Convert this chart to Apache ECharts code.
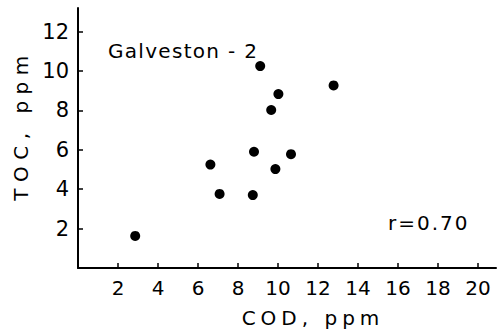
<!DOCTYPE html>
<html>
<head>
<meta charset="utf-8">
<script src="https://cdn.jsdelivr.net/npm/echarts@6/dist/echarts.min.js"></script>
<style>
  html, body { margin: 0; padding: 0; background: #fff; }
  #chart { width: 502px; height: 335px; }
</style>
</head>
<body>
<div id="chart"></div>
<script>
// COD vs TOC measurements, Galveston-2 site
const codValues = [2.86, 7.08, 8.74, 6.62, 8.8, 9.87, 10.65, 9.66, 10.02, 9.11, 12.78];
const tocValues = [1.63, 3.76, 3.7, 5.25, 5.9, 5.02, 5.78, 8.02, 8.83, 10.25, 9.27];
const xTicks = [2, 4, 6, 8, 10, 12, 14, 16, 18, 20];
const yTicks = [2, 4, 6, 8, 10, 12];
const xTitle = 'COD, ppm';
const yTitle = 'TOC, ppm';
const siteLabel = 'Galveston - 2';
const corrLabel = 'r=0.70';

const points = codValues.map((c, i) => [c, tocValues[i]]);
const FONT = 'DejaVu Sans';

// hand-lettered look: extra tracking on the longer texts
const tracking = {};
tracking[xTitle] = '5px';
tracking[yTitle] = '6.5px';
tracking[siteLabel] = '1.3px';
tracking[corrLabel] = '2px';

function applyTracking() {
  document.querySelectorAll('#chart text').forEach(t => {
    const ls = tracking[t.textContent];
    if (ls) t.style.letterSpacing = ls;
  });
}

const chart = echarts.init(document.getElementById('chart'), null, { renderer: 'svg' });
chart.on('finished', applyTracking);
chart.setOption({
  animation: false,
  backgroundColor: '#ffffff',
  grid: { left: 78, right: 6, top: 8, bottom: 67 },
  xAxis: {
    type: 'value', min: 0, max: 20.9,
    name: xTitle, nameLocation: 'middle', nameGap: 40,
    nameTextStyle: { color: '#000', fontSize: 20, fontFamily: FONT, padding: [0, 0, 0, 52] },
    axisLine: { lineStyle: { color: '#000', width: 2 } },
    axisTick: { inside: true, length: 5, customValues: xTicks, lineStyle: { color: '#000', width: 1.5 } },
    axisLabel: { customValues: xTicks, color: '#000', fontSize: 20, fontFamily: FONT, margin: 10 },
    splitLine: { show: false }
  },
  yAxis: {
    type: 'value', min: 0, max: 13.2,
    name: yTitle, nameLocation: 'middle', nameGap: 46, nameRotate: 90,
    nameTextStyle: { color: '#000', fontSize: 20, fontFamily: FONT, padding: [0, 0, 0, 26] },
    axisLine: { lineStyle: { color: '#000', width: 2 } },
    axisTick: { inside: true, length: 5, customValues: yTicks, lineStyle: { color: '#000', width: 1.5 } },
    axisLabel: { customValues: yTicks, color: '#000', fontSize: 21, fontFamily: FONT, margin: 9 },
    splitLine: { show: false }
  },
  series: [{
    type: 'scatter',
    data: points,
    symbol: 'circle',
    symbolSize: 10,
    itemStyle: { color: '#000', opacity: 1 }
  }],
  graphic: [
    { type: 'text', left: 108, top: 41, style: { text: siteLabel, fill: '#000', fontSize: 20, fontFamily: FONT } },
    { type: 'text', left: 388, top: 213, style: { text: corrLabel, fill: '#000', fontSize: 20, fontFamily: FONT } }
  ]
});
applyTracking();
setTimeout(applyTracking, 0);
</script>
</body>
</html>
